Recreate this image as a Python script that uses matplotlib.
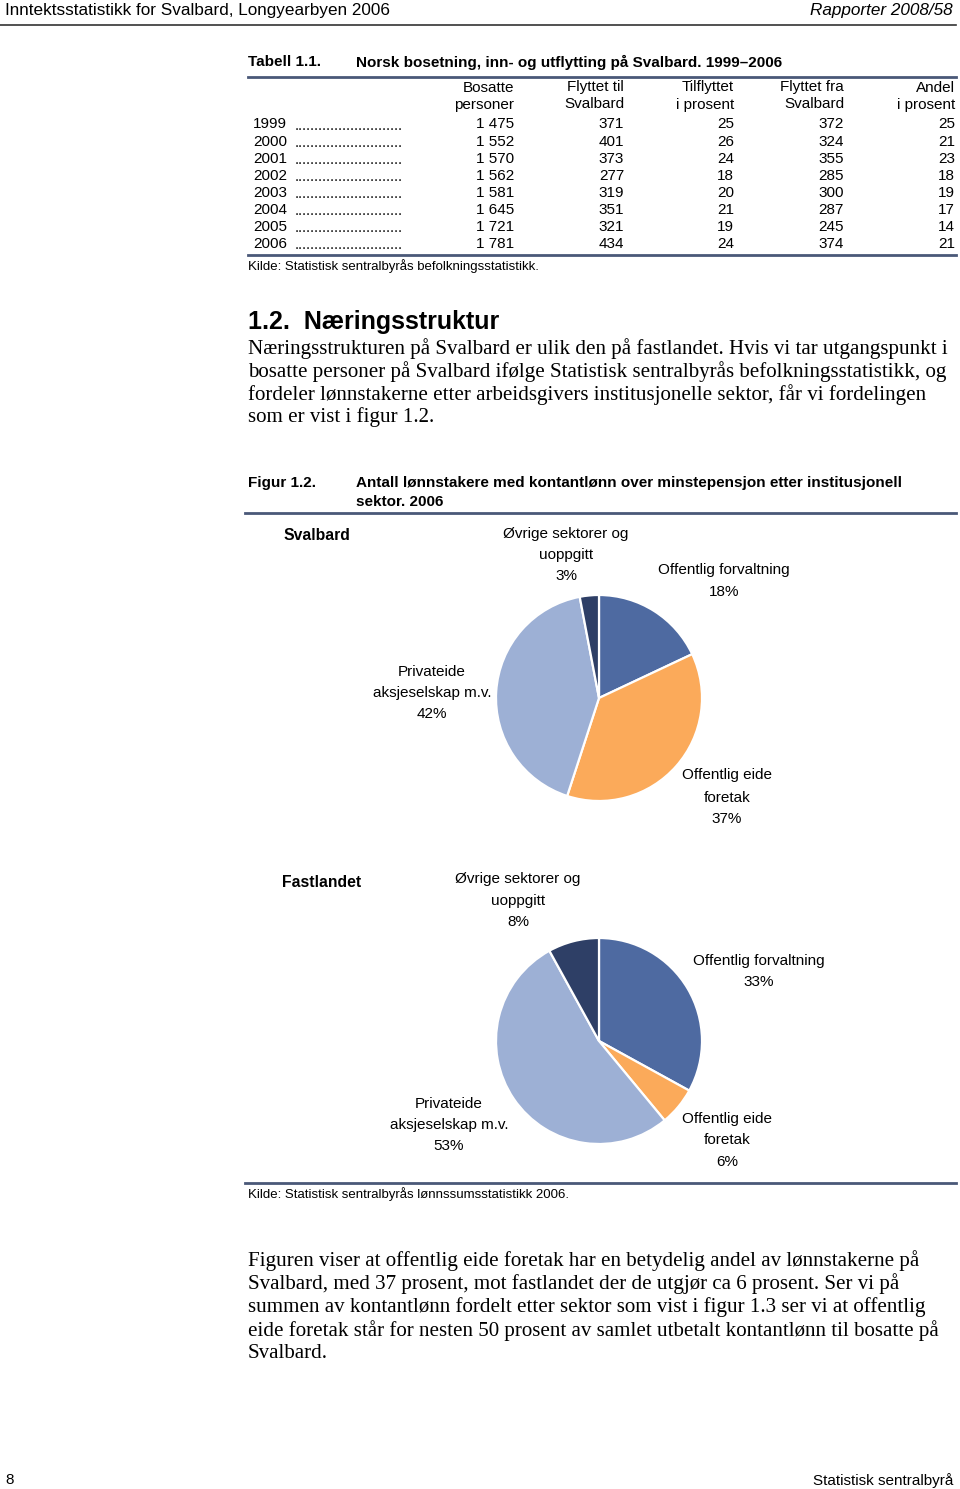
import matplotlib
matplotlib.use("Agg")
import matplotlib.pyplot as plt

W, H = 960, 1489

# ---- data ----
years = ["1999", "2000", "2001", "2002", "2003", "2004", "2005", "2006"]
bosatte = ["1 475", "1 552", "1 570", "1 562", "1 581", "1 645", "1 721", "1 781"]
flyttet_til = [371, 401, 373, 277, 319, 351, 321, 434]
tilflyttet_pst = [25, 26, 24, 18, 20, 21, 19, 24]
flyttet_fra = [372, 324, 355, 285, 300, 287, 245, 374]
andel_pst = [25, 21, 23, 18, 19, 17, 14, 21]
col_heads = [("Bosatte", "personer"), ("Flyttet til", "Svalbard"), ("Tilflyttet", "i prosent"),
             ("Flyttet fra", "Svalbard"), ("Andel", "i prosent")]

sectors = ["Offentlig forvaltning", "Offentlig eide foretak", "Privateide aksjeselskap m.v.",
           "Øvrige sektorer og uoppgitt"]
svalbard_pct = [18, 37, 42, 3]
fastland_pct = [33, 6, 53, 8]
sector_colors = ["#4E6AA1", "#FBAA5A", "#9DB0D5", "#2E3F66"]

body1 = ["Næringsstrukturen på Svalbard er ulik den på fastlandet. Hvis vi tar utgangspunkt i",
         "bosatte personer på Svalbard ifølge Statistisk sentralbyrås befolkningsstatistikk, og",
         "fordeler lønnstakerne etter arbeidsgivers institusjonelle sektor, får vi fordelingen",
         "som er vist i figur 1.2."]
body2 = ["Figuren viser at offentlig eide foretak har en betydelig andel av lønnstakerne på",
         "Svalbard, med 37 prosent, mot fastlandet der de utgjør ca 6 prosent. Ser vi på",
         "summen av kontantlønn fordelt etter sektor som vist i figur 1.3 ser vi at offentlig",
         "eide foretak står for nesten 50 prosent av samlet utbetalt kontantlønn til bosatte på",
         "Svalbard."]

SANS = "Liberation Sans"
SERIF = "Liberation Serif"
RULE = "#4A5878"
DY = 1.5  # small downward nudge for all text

fig = plt.figure(figsize=(W / 100, H / 100), dpi=100)


def tx(x, y, s, **kw):
    kw.setdefault("family", SANS)
    kw.setdefault("va", "center")
    fig.text(x / W, 1 - (y + DY) / H, s, **kw)


def hline(y, x0, x1, lw=1.0, color=RULE):
    fig.add_artist(plt.Line2D([x0 / W, x1 / W], [1 - y / H, 1 - y / H], lw=lw, color=color))


# page header
tx(5, 9, "Inntektsstatistikk for Svalbard, Longyearbyen 2006", fontsize=12.3)
tx(953, 9, "Rapporter 2008/58", fontsize=12.3, ha="right", style="italic")
hline(25, 0, 956, lw=1.2, color="#333333")

# table
tx(248, 61, "Tabell 1.1.", fontsize=11, weight="bold")
tx(356, 61, "Norsk bosetning, inn- og utflytting på Svalbard. 1999–2006", fontsize=11, weight="bold")
hline(77, 248, 956, lw=2.0)
col_x = [514, 624, 734, 844, 955]
for cx, (h1, h2) in zip(col_x, col_heads):
    tx(cx, 86, h1, fontsize=11, ha="right")
    tx(cx, 103, h2, fontsize=11, ha="right")
for i, yr in enumerate(years):
    y = 123 + i * 17.1
    tx(253, y, yr, fontsize=11)
    tx(295, y + 1, "." * 27, fontsize=10.5)
    vals = [bosatte[i], flyttet_til[i], tilflyttet_pst[i], flyttet_fra[i], andel_pst[i]]
    for cx, v in zip(col_x, vals):
        tx(cx, y, str(v), fontsize=11, ha="right")
hline(255, 248, 956, lw=2.0)
tx(248, 265, "Kilde: Statistisk sentralbyrås befolkningsstatistikk.", fontsize=9.5)

# section text
tx(248, 321, "1.2.  Næringsstruktur", fontsize=18, weight="bold")
for i, line in enumerate(body1):
    tx(248, 347 + i * 23, line, fontsize=15.1, family=SERIF)

# figure
tx(248, 482, "Figur 1.2.", fontsize=11, weight="bold")
tx(356, 482, "Antall lønnstakere med kontantlønn over minstepensjon etter institusjonell", fontsize=11, weight="bold")
tx(356, 500, "sektor. 2006", fontsize=11, weight="bold")
hline(513, 245, 956, lw=2.0)


def pie(cy, values):
    r = 103
    ax = fig.add_axes([(599 - r) / W, 1 - (cy + r) / H, 2 * r / W, 2 * r / H])
    wedges, _ = ax.pie(values, colors=sector_colors, startangle=90, counterclock=False,
                       wedgeprops=dict(edgecolor="white", linewidth=1.6))
    for w in wedges:
        w.set_clip_on(False)
    ax.set_xlim(-1, 1)
    ax.set_ylim(-1, 1)
    ax.set_aspect("equal")
    ax.axis("off")


def label(x, ys, lines):
    for y, s in zip(ys, lines):
        tx(x, y, s, fontsize=11, ha="center")


pie(698, svalbard_pct)
tx(283, 534, "Svalbard", fontsize=11.3, weight="bold")
label(566, [532, 554, 575], ["Øvrige sektorer og", "uoppgitt", f"{svalbard_pct[3]}%"])
label(724, [569, 591], ["Offentlig forvaltning", f"{svalbard_pct[0]}%"])
label(432, [670, 691, 713], ["Privateide", "aksjeselskap m.v.", f"{svalbard_pct[2]}%"])
label(727, [774, 796, 817], ["Offentlig eide", "foretak", f"{svalbard_pct[1]}%"])

pie(1041, fastland_pct)
tx(282, 881, "Fastlandet", fontsize=11.3, weight="bold")
label(518, [878, 899, 920], ["Øvrige sektorer og", "uoppgitt", f"{fastland_pct[3]}%"])
label(759, [959, 980], ["Offentlig forvaltning", f"{fastland_pct[0]}%"])
label(449, [1103, 1124, 1145], ["Privateide", "aksjeselskap m.v.", f"{fastland_pct[2]}%"])
label(727, [1117, 1139, 1160], ["Offentlig eide", "foretak", f"{fastland_pct[1]}%"])

hline(1183, 245, 956, lw=2.0)
tx(248, 1193, "Kilde: Statistisk sentralbyrås lønnssumsstatistikk 2006.", fontsize=9.5)

for i, line in enumerate(body2):
    tx(248, 1259 + i * 23.2, line, fontsize=15.1, family=SERIF)

# footer
tx(5, 1479, "8", fontsize=11)
tx(953, 1479, "Statistisk sentralbyrå", fontsize=11, ha="right")

fig.savefig("out.png", dpi=100, facecolor="white")
